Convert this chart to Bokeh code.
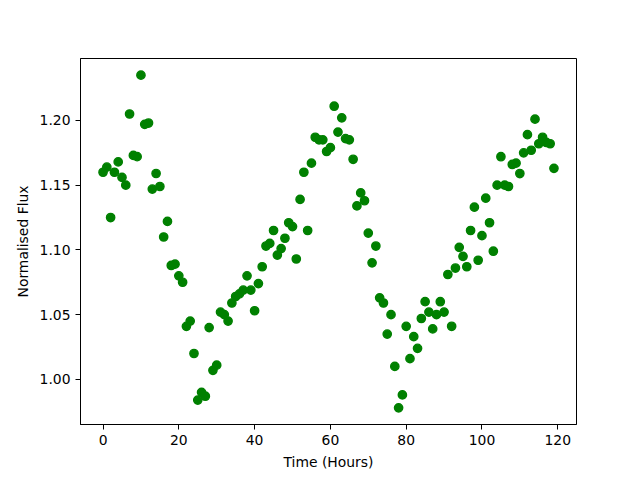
from bokeh.plotting import figure
from bokeh.models import Range1d, FixedTicker, NumeralTickFormatter
from bokeh.embed import file_html
from bokeh.resources import INLINE

hours = list(range(120))
flux = [
    1.160, 1.164, 1.125, 1.160, 1.168, 1.156, 1.150, 1.205, 1.173, 1.172,
    1.235, 1.197, 1.198, 1.147, 1.159, 1.149, 1.110, 1.122, 1.088, 1.089,
    1.080, 1.075, 1.041, 1.045, 1.020, 0.984, 0.990, 0.987, 1.040, 1.007,
    1.011, 1.052, 1.050, 1.045, 1.059, 1.064, 1.066, 1.069, 1.080, 1.069,
    1.053, 1.074, 1.087, 1.103, 1.105, 1.115, 1.096, 1.101, 1.109, 1.121,
    1.118, 1.093, 1.139, 1.160, 1.115, 1.167, 1.187, 1.185, 1.185, 1.176,
    1.179, 1.211, 1.191, 1.202, 1.186, 1.185, 1.170, 1.134, 1.144, 1.138,
    1.113, 1.090, 1.103, 1.063, 1.059, 1.035, 1.050, 1.010, 0.978, 0.988,
    1.041, 1.016, 1.033, 1.024, 1.047, 1.060, 1.052, 1.039, 1.050, 1.060,
    1.052, 1.081, 1.041, 1.086, 1.102, 1.095, 1.087, 1.115, 1.133, 1.092,
    1.111, 1.140, 1.121, 1.099, 1.150, 1.172, 1.150, 1.149, 1.166, 1.167,
    1.159, 1.175, 1.189, 1.177, 1.201, 1.182, 1.187, 1.183, 1.182, 1.163,
]
x_ticks = [0, 20, 40, 60, 80, 100, 120]
y_ticks = [1.00, 1.05, 1.10, 1.15, 1.20]

xpad = 0.05 * (max(hours) - min(hours))
ypad = 0.05 * (max(flux) - min(flux))

p = figure(width=632, height=472, output_backend="svg", toolbar_location=None,
           x_range=Range1d(min(hours) - xpad, max(hours) + xpad),
           y_range=Range1d(min(flux) - ypad, max(flux) + ypad),
           min_border_left=80, min_border_right=56,
           min_border_top=58, min_border_bottom=45)

p.scatter(hours, flux, size=8.3, fill_color="#008000", line_color="#008000",
          line_width=1.4)

p.xgrid.visible = False
p.ygrid.visible = False
p.outline_line_color = "black"
p.outline_line_width = 1
p.outline_line_alpha = 1.0

p.xaxis.ticker = FixedTicker(ticks=x_ticks)
p.yaxis.ticker = FixedTicker(ticks=y_ticks)
p.yaxis.formatter = NumeralTickFormatter(format="0.00")
p.xaxis.axis_label = "Time (Hours)"
p.yaxis.axis_label = "Normalised Flux"

for ax in (p.xaxis, p.yaxis):
    ax.major_label_text_font = "DejaVu Sans"
    ax.major_label_text_font_size = "13.9px"
    ax.major_label_text_color = "black"
    ax.axis_label_text_font = "DejaVu Sans"
    ax.axis_label_text_font_size = "13.9px"
    ax.axis_label_text_font_style = "normal"
    ax.axis_label_text_color = "black"
    ax.major_tick_out = 5
    ax.major_tick_in = 0
    ax.minor_tick_out = 0
    ax.minor_tick_in = 0
    ax.major_label_standoff = 5
    ax.axis_label_standoff = 6
    ax.axis_line_color = "black"
    ax.major_tick_line_color = "black"

open("out.html", "w").write(file_html(p, INLINE))
